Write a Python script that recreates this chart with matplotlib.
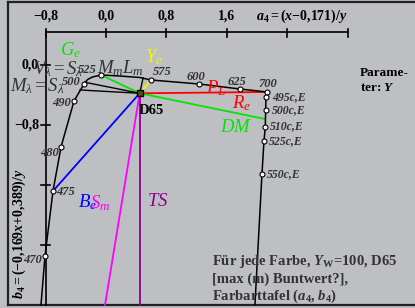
import matplotlib.pyplot as plt

plt.rcParams['font.family'] = ['Liberation Serif', 'DejaVu Serif']
plt.rcParams['mathtext.fontset'] = 'custom'
plt.rcParams['mathtext.rm'] = 'Liberation Serif'
plt.rcParams['mathtext.it'] = 'Liberation Serif:italic'
plt.rcParams['mathtext.bf'] = 'Liberation Serif:bold'
plt.rcParams['mathtext.bfit'] = 'Liberation Serif:bold:italic'

# spectral locus in (a4, b4)
locus_nm = [450, 470, 475, 480, 490, 500, 505, 510, 525, 550, 560, 575, 600, 625, 700]
locus_a = [-0.860, -0.807, -0.701, -0.595, -0.423, -0.291, -0.245, -0.180, -0.066,
           0.185, 0.450, 0.595, 1.230, 1.772, 2.130]
locus_b = [-3.200, -2.547, -1.680, -1.093, -0.480, -0.253, -0.195, -0.160, -0.133,
           -0.147, -0.167, -0.200, -0.253, -0.320, -0.360]
locus_marked = [470, 475, 480, 490, 500, 525, 575, 600, 625, 700]

# purple line (compensatory colours)
purp_lab = ['700', '495c,E', '500c,E', '510c,E', '525c,E', '550c,E', '']
purp_a = [2.130, 2.116, 2.112, 2.107, 2.090, 2.063, 1.970]
purp_b = [-0.360, -0.427, -0.600, -0.823, -1.013, -1.453, -3.200]

d65 = (0.446, -0.377)

# rays from D65: end point and colour
ray_a = [2.130, 2.103, -0.066, 0.595, -0.701, -0.013, 0.446]
ray_b = [-0.360, -0.720, -0.133, -0.200, -1.680, -3.200, -3.200]
ray_col = ['#ff0000', '#00e600', '#00e600', '#f5f500', '#0000ff', '#ff00ff', '#8c008c']

black_a = [-0.280, -0.344, 0.490]
black_b = [-0.230, -0.333, -0.173]

xticks = [-0.8, 0.0, 0.8, 1.6, 2.4, 3.2]
xtick_lab = ['\u22120,8', '0,0', '0,8', '1,6']
yticks = [0.0, -0.8, -1.6, -2.4]
ytick_lab = ['0,0', '\u22120,8']

grey = '#bebfc3'
ink = '#333333'


def px(x, y):
    # pixel position in the 415x308 picture -> data units
    return (x - 106) / 75.6, (65 - y) / 75.0


fig = plt.figure(figsize=(4.15, 3.08), dpi=100)
fig.patch.set_facecolor(grey)
ax = fig.add_axes([0, 0, 1, 1])
ax.set_facecolor(grey)
ax.set_xlim(-106 / 75.6, (415 - 106) / 75.6)
ax.set_ylim((65 - 308) / 75.0, 65 / 75.0)
ax.axis('off')

# frame
ax.plot([8 / 415, 8 / 415], [3 / 308, 306.5 / 308], color='#222222', lw=1.6, transform=ax.transAxes)
ax.plot([8 / 415, 1], [306.5 / 308, 306.5 / 308], color='#222222', lw=1.6, transform=ax.transAxes)
ax.plot([8 / 415, 1], [3 / 308, 3 / 308], color='#222222', lw=1.6, transform=ax.transAxes)

# axes lines
top_b = px(0, 32)[1]
bot_b = px(0, 305)[1]
ax.plot([-0.8, 3.2], [top_b, top_b], color='black', lw=1.2)
ax.plot([-0.8, -0.8], [top_b, bot_b], color='black', lw=1.2)
for t in xticks:
    ax.plot([t, t], [top_b + 0.04, top_b - 0.06], color='black', lw=1.2)
for t in yticks:
    ax.plot([-0.855, -0.745], [t, t], color='black', lw=1.2)
for t, s in zip(xticks, xtick_lab):
    ax.text(t, px(0, 16)[1], s, ha='center', va='center', fontsize=10, fontweight='bold')
ax.text(*px(256, 16), r'$\mathbfit{a}_\mathbf{4}\mathbf{=(}\mathbfit{x}\mathbf{-0{,}171)/}\mathbfit{y}$',
        ha='left', va='center', fontsize=10)
for t, s in zip(yticks, ytick_lab):
    ax.text(px(39, 0)[0], t, s, ha='right', va='center', fontsize=10, fontweight='bold')
ax.text(*px(19, 234), r'$\mathbfit{b}_\mathbf{4}\mathbf{=(-0{,}169}\mathbfit{x}\mathbf{+0{,}389)/}\mathbfit{y}$',
        ha='center', va='center', fontsize=10, rotation=90)

# rays
for a, b, c in zip(ray_a, ray_b, ray_col):
    ax.plot([d65[0], a], [d65[1], b], color=c, lw=1.3, zorder=3)
for a, b in zip(black_a, black_b):
    ax.plot([d65[0], a], [d65[1], b], color='black', lw=1.0, zorder=3)

# locus and purple line
ax.plot(locus_a, locus_b, color='black', lw=1.1, zorder=4)
ax.plot(purp_a, purp_b, color='black', lw=1.1, zorder=4)
mk_a = [a for n, a in zip(locus_nm, locus_a) if n in locus_marked]
mk_b = [b for n, b in zip(locus_nm, locus_b) if n in locus_marked]
ax.plot(mk_a, mk_b, 'o', ms=3.6, mfc='white', mec='black', mew=0.8, zorder=5)
ax.plot(purp_a[1:-1], purp_b[1:-1], 'o', ms=3.6, mfc='white', mec='black', mew=0.8, zorder=5)
ax.plot(*d65, 's', ms=4.5, mfc='#505010', mec='black', mew=1.0, zorder=6)

# wavelength labels
nm_pos = {470: (42, 260, 'right'), 475: (56, 192, 'left'), 480: (59, 153, 'right'),
          490: (71, 103, 'right'), 500: (81, 82, 'right'), 525: (97, 70, 'right'),
          575: (153, 72, 'left'), 600: (196, 77, 'center'), 625: (237, 82, 'center'),
          700: (268, 84, 'center')}
for n, (x, y, ha) in nm_pos.items():
    ax.text(*px(x, y), str(n), ha=ha, va='center', fontsize=9, fontweight='bold',
            style='italic', color=ink, zorder=7)
c_pos = [(272, 97), (272, 110), (270, 126), (269, 141), (267, 174)]
for s, (x, y) in zip(purp_lab[1:-1], c_pos):
    ax.text(*px(x, y), s, ha='left', va='center', fontsize=8.5, fontweight='bold',
            style='italic', color=ink, zorder=7)

# named lines / points
names = [(r'$G_e$', 60, 50, '#00e600'), (r'$Y_e$', 145, 57, '#f5f500'),
         (r'$V_\lambda{=}S_\lambda$', 33, 69, ink), (r'$M_\lambda = S_\lambda$', 10, 86, ink),
         (r'$M_m$', 97, 68, ink), (r'$L_m$', 122, 68, ink),
         (r'$P_L$', 206, 88, '#ff0000'), (r'$R_e$', 232, 103, '#ff0000'),
         (r'$DM$', 220, 128, '#00e600'), (r'$B_e$', 78, 202, '#0000ff'),
         (r'$S_m$', 90, 203, '#ff00ff'), (r'$TS$', 147, 202, '#8c008c')]
for s, x, y, c in names:
    ax.text(*px(x, y), s, ha='left', va='center', fontsize=13.5, color=c, zorder=8)
ax.text(*px(139, 111), 'D65', ha='left', va='center', fontsize=10.5, fontweight='bold', zorder=8)

ax.text(*px(360, 73), 'Parame-', ha='left', va='center', fontsize=9.5, fontweight='bold')
ax.text(*px(360, 88), r'ter: $\mathbfit{Y}$', ha='left', va='center', fontsize=9.5, fontweight='bold')

notes = [r'Für jede Farbe, $\mathbfit{Y}_\mathbf{W}$=100, D65',
         '[max (m) Buntwert?],',
         r'Farbarttafel ($\mathbfit{a}_\mathbf{4}$, $\mathbfit{b}_\mathbf{4}$)']
for s, y in zip(notes, [262, 279, 296]):
    ax.text(*px(212, y), s, ha='left', va='center', fontsize=10.5, fontweight='bold', color=ink, zorder=8)

fig.savefig('out.png', dpi=100, facecolor=grey)
